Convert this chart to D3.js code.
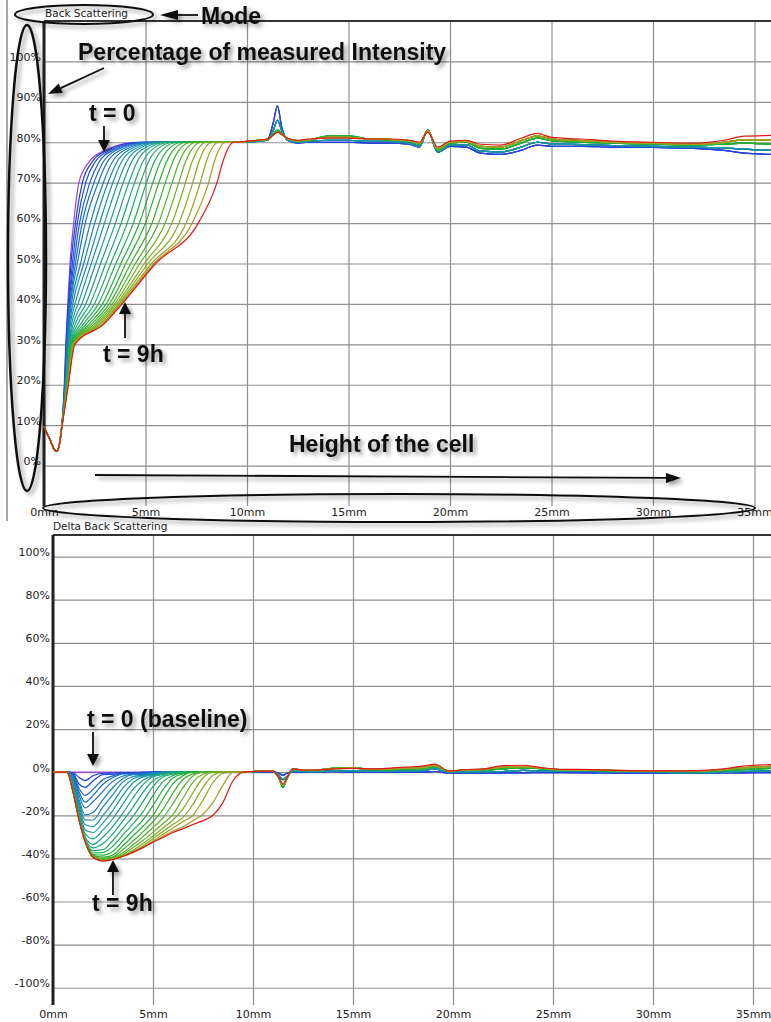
<!DOCTYPE html>
<html>
<head>
<meta charset="utf-8">
<script src="https://cdn.jsdelivr.net/npm/d3@7"></script>
<style>
  body { margin: 0; background: #fff; }
  svg { display: block; }
  .tick text { font-family: "DejaVu Sans", Verdana, sans-serif; font-size: 11px; fill: #222; }
  .title { font-family: "DejaVu Sans", Verdana, sans-serif; font-size: 10.5px; fill: #222; }
  .note { font-family: "Liberation Sans", Arial, sans-serif; font-weight: bold; font-size: 23px; fill: #111; }
</style>
</head>
<body>
<div id="chart"></div>
<script>
// ---- data ----
const mmTicks = [0, 5, 10, 15, 20, 25, 30, 35];
const pctTicksTop = [0, 10, 20, 30, 40, 50, 60, 70, 80, 90, 100];
const pctTicksBottom = [-100, -80, -60, -40, -20, 0, 20, 40, 60, 80, 100];

// back scattering: common start of every scan (cell bottom)
const bsStartMm = [0, 0.15, 0.33, 0.5, 0.62, 0.75, 0.85];
const bsStartPct = [9.6, 8, 6, 4, 3.5, 5, 8.5];

// height (mm) where each scan crosses these levels, t = 0 ... t = 9h
const bsLevels = [20, 30, 35, 40, 50, 60, 70, 75, 78, 80];
const bsFrontMm = [
  [1.00, 1.07, 1.12, 1.17, 1.28, 1.46, 1.72, 2.20, 3.00, 4.60],
  [1.01, 1.09, 1.14, 1.20, 1.33, 1.55, 1.89, 2.35, 3.10, 4.70],
  [1.02, 1.10, 1.15, 1.22, 1.40, 1.64, 2.05, 2.50, 3.25, 4.85],
  [1.03, 1.11, 1.17, 1.24, 1.47, 1.75, 2.26, 2.70, 3.40, 5.00],
  [1.04, 1.12, 1.18, 1.27, 1.55, 1.88, 2.46, 2.90, 3.55, 5.10],
  [1.05, 1.14, 1.20, 1.30, 1.64, 2.03, 2.67, 3.10, 3.75, 5.20],
  [1.06, 1.16, 1.23, 1.35, 1.80, 2.28, 2.92, 3.35, 3.95, 5.35],
  [1.07, 1.18, 1.26, 1.42, 1.96, 2.50, 3.15, 3.58, 4.15, 5.45],
  [1.07, 1.20, 1.30, 1.53, 2.14, 2.74, 3.39, 3.80, 4.35, 5.60],
  [1.08, 1.22, 1.36, 1.68, 2.33, 2.98, 3.64, 4.05, 4.55, 5.75],
  [1.09, 1.24, 1.44, 1.86, 2.55, 3.24, 3.90, 4.30, 4.78, 5.90],
  [1.10, 1.26, 1.54, 2.06, 2.79, 3.52, 4.18, 4.57, 5.02, 6.05],
  [1.11, 1.28, 1.66, 2.27, 3.04, 3.80, 4.46, 4.85, 5.28, 6.20],
  [1.12, 1.30, 1.80, 2.48, 3.29, 4.10, 4.75, 5.13, 5.52, 6.40],
  [1.12, 1.32, 1.94, 2.68, 3.54, 4.40, 5.05, 5.42, 5.80, 6.60],
  [1.13, 1.34, 2.08, 2.88, 3.79, 4.70, 5.36, 5.72, 6.08, 6.80],
  [1.14, 1.36, 2.22, 3.06, 4.03, 5.00, 5.66, 6.02, 6.36, 7.00],
  [1.15, 1.38, 2.35, 3.22, 4.27, 5.32, 5.98, 6.33, 6.64, 7.25],
  [1.16, 1.40, 2.47, 3.36, 4.50, 5.64, 6.31, 6.65, 6.95, 7.50],
  [1.16, 1.42, 2.58, 3.48, 4.72, 5.97, 6.64, 6.96, 7.25, 7.75],
  [1.17, 1.44, 2.68, 3.58, 4.94, 6.30, 6.97, 7.28, 7.55, 8.00],
  [1.18, 1.46, 2.77, 3.67, 5.12, 6.65, 7.33, 7.62, 7.87, 8.30],
  [1.19, 1.48, 2.84, 3.74, 5.30, 7.00, 7.70, 7.98, 8.22, 8.60],
  [1.19, 1.50, 2.90, 3.80, 5.42, 7.30, 8.11, 8.38, 8.60, 8.95],
  [1.20, 1.52, 2.95, 3.85, 5.50, 7.60, 8.52, 8.80, 9.02, 9.35]
];

// upper part of the cell (stable zone), one profile per colour band
const plateauMm = [9.6, 10, 10.5, 11, 11.3, 11.5, 11.7, 12, 12.5, 13, 14, 15, 16, 17, 18, 18.5, 18.9, 19.4, 20, 20.8, 21.5, 22.5, 23.5, 24.3, 25, 26.5, 28, 30, 32, 33.5, 34.5, 35.9];
const plateauBlue  = [80, 80, 80.3, 80.5, 85, 89, 84, 80.5, 79.8, 80, 80, 80, 79.8, 79.8, 79.5, 78.8, 83, 77.5, 79, 78.8, 77.3, 77, 78, 79.3, 79, 79, 78.8, 78.7, 78.5, 78, 77.3, 77];
const plateauTeal  = [80, 80, 80.2, 80.5, 83, 85.5, 83, 80.5, 80, 80.2, 80.5, 80.5, 80.2, 80.2, 79.8, 79, 83, 77.6, 79.3, 79.4, 77.8, 77.6, 78.8, 80, 79.6, 79.4, 79.2, 79, 78.8, 78.6, 78.3, 78];
const plateauGreen = [80, 80.2, 80.4, 80.6, 82, 83, 82.3, 80.8, 80.3, 80.5, 81.5, 81.5, 80.8, 80.6, 80.3, 79.5, 83, 78, 79.8, 80, 78.5, 78.3, 79.8, 81, 80.4, 80, 79.8, 79.5, 79.3, 79.5, 79.8, 79.5];
const plateauOlive = [80, 80.2, 80.5, 80.7, 81.8, 82.6, 82, 80.9, 80.4, 80.6, 81.2, 81.2, 80.8, 80.7, 80.4, 79.8, 82.8, 78.4, 80, 80.2, 79, 78.8, 80.4, 81.6, 80.8, 80.4, 80, 79.8, 79.5, 80, 80.6, 80.6];
const plateauRed   = [80, 80.3, 80.5, 80.8, 81.8, 82.5, 82, 81, 80.5, 80.8, 81, 81, 80.8, 80.8, 80.5, 80, 82.5, 78.8, 80.3, 80.5, 79.5, 79.3, 81, 82.2, 81.2, 80.8, 80.3, 80, 79.8, 80.5, 81.5, 81.7];
const plateauGroup = [0, 0, 0, 1, 1, 1, 1, 1, 1, 1, 2, 2, 2, 2, 2, 2, 2, 3, 3, 3, 3, 3, 3, 3, 4];

// delta back scattering (scan - scan at t = 0)
const deltaMm = [0, 0.7, 1.0, 1.3, 1.6, 2.0, 2.5, 3.0, 3.5, 4.0, 4.5, 5.0, 5.5, 6.0, 6.5, 7.0, 7.5, 8.0, 8.5, 9.0];
const deltaRows = [
  [0, 0, 0, 0, 0, 0, 0, 0, 0, 0, 0, 0, 0, 0, 0, 0, 0, 0, 0, 0],
  [0, 0, -0.3, -2.5, -3.9, -1.7, -0.5, -0.4, -0.3, -0.2, -0.1, 0, 0, 0, 0, 0, 0, 0, 0, 0],
  [0, 0, -0.6, -5.5, -7.1, -4.1, -1.1, -1.0, -0.3, -0.3, -0.1, 0, 0, 0, 0, 0, 0, 0, 0, 0],
  [0, 0, -1, -7.5, -10.8, -8, -3.4, -1.7, -0.5, -0.5, -0.4, 0, 0, 0, 0, 0, 0, 0, 0, 0],
  [0, 0, -1.5, -9, -13.9, -10.8, -5.6, -2.5, -0.8, -0.7, -0.5, -0.1, 0, 0, 0, 0, 0, 0, 0, 0],
  [0, 0, -2, -10.5, -16.6, -13.7, -8.8, -4.2, -1.8, -0.9, -0.9, -0.3, 0, 0, 0, 0, 0, 0, 0, 0],
  [0, 0, -3, -12.5, -19.8, -18.7, -12.7, -7.1, -2.9, -1.2, -1.1, -0.5, 0, 0, 0, 0, 0, 0, 0, 0],
  [0, 0, -4, -14, -22.1, -22.2, -16.1, -10.3, -4.5, -2, -1.4, -0.7, 0, 0, 0, 0, 0, 0, 0, 0],
  [0, 0, -5, -15.5, -24.3, -25.2, -20.1, -14, -7.3, -3.2, -1.7, -1, -0.2, 0, 0, 0, 0, 0, 0, 0],
  [0, 0, -6, -17, -26.7, -28, -23.5, -17.7, -10.7, -4.9, -2.2, -1.3, -0.4, 0, 0, 0, 0, 0, 0, 0],
  [0, 0, -7, -18.5, -28.5, -30.9, -26.8, -21.5, -14.7, -8, -3.7, -1.6, -0.7, 0, 0, 0, 0, 0, 0, 0],
  [0, 0, -7.5, -19.5, -29.8, -33.5, -30.1, -25.1, -18.9, -12, -5.8, -2.1, -1.1, -0.1, 0, 0, 0, 0, 0, 0],
  [0, 0, -8, -20.5, -30.8, -35.1, -33.1, -28.5, -22.5, -16.3, -9.4, -4, -1.5, -0.4, 0, 0, 0, 0, 0, 0],
  [0, 0, -8.5, -21, -31.2, -36.4, -35.9, -31.6, -26, -20.5, -13.7, -6.7, -2.2, -0.9, 0, 0, 0, 0, 0, 0],
  [0, 0, -8.7, -21.3, -31.5, -37.5, -37.3, -34.3, -29.1, -24, -18.4, -10.8, -4.4, -1.5, -0.3, 0, 0, 0, 0, 0],
  [0, 0, -8.8, -21.5, -31.6, -38.2, -38.5, -36.7, -31.8, -27, -22.1, -15.5, -8.1, -2.7, -0.8, 0, 0, 0, 0, 0],
  [0, 0, -8.9, -21.6, -31.7, -38.6, -39.4, -38.4, -34.1, -29.6, -25.1, -20, -12.4, -5.3, -1.6, 0, 0, 0, 0, 0],
  [0, 0, -9, -21.7, -31.8, -38.9, -40, -39.3, -35.9, -31.9, -27.7, -23, -17.3, -9.7, -3.4, -0.8, 0, 0, 0, 0],
  [0, 0, -9, -21.8, -31.9, -39.1, -40.4, -39.7, -37.4, -33.7, -29.9, -25.6, -21.2, -14.6, -7.2, -1.8, 0, 0, 0, 0],
  [0, 0, -9, -21.9, -31.9, -39.2, -40.7, -40, -38.2, -35, -31.7, -27.8, -23.8, -19.6, -12.1, -4.6, -1, 0, 0, 0],
  [0, 0, -9, -21.9, -32, -39.3, -40.9, -40.2, -38.6, -36.2, -33.1, -29.6, -25.9, -22.2, -17, -9.5, -2.6, 0, 0, 0],
  [0, 0, -9, -22, -32, -39.4, -41, -40.3, -38.8, -36.8, -34.2, -30.8, -27.5, -24.2, -21, -14.9, -7.1, -1.4, 0, 0],
  [0, 0, -9, -22, -32, -39.4, -41.1, -40.4, -38.9, -37, -34.7, -31.9, -28.8, -25.9, -22.9, -20, -12.9, -4.8, -0.5, 0],
  [0, 0, -9, -22, -32, -39.5, -41.2, -40.5, -39, -37.1, -34.9, -32.3, -29.8, -27.3, -25.3, -22.5, -19.5, -14, -6, 0],
  [0, 0, -9, -22, -32, -39.5, -41.2, -40.5, -39, -37.2, -35, -32.5, -30.3, -28, -26.2, -24.3, -22.5, -20, -14, -4]
];
const deltaPlateauMm = [9.5, 10, 10.5, 11, 11.3, 11.5, 11.7, 12, 12.5, 13, 14, 15, 16, 17, 18, 18.5, 19.1, 19.8, 20.5, 21.5, 22.5, 23.5, 24.5, 25.5, 27, 28.5, 30, 31.5, 32.5, 33.5, 34.5, 35.9];
const deltaBlue  = [0, 0, 0, 0, -0.5, -1.5, -0.5, 0, 0, 0, 0.2, 0, 0, 0, 0, 0, 0.3, -0.5, -0.6, -0.5, -0.3, -0.3, -0.2, -0.2, -0.3, -0.5, -0.5, -0.6, -0.5, -0.4, -0.3, -0.2];
const deltaTeal  = [0, 0.2, 0.3, 0.3, -1.5, -3.5, -2, 0.5, 0.3, 0.2, 0.6, 0.5, 0.4, 0.5, 0.6, 0.8, 1.5, 0, 0, 0.2, 0.3, 0.8, 0.5, 0.4, 0.3, 0.2, 0, -0.2, -0.2, 0, 0.3, 0.5];
const deltaGreen = [0, 0.3, 0.5, 0.5, -3, -7, -3, 1.5, 0.8, 0.8, 1.8, 2, 1.2, 1.2, 1.5, 1.5, 2.5, 0.5, 0.8, 1, 1.5, 2, 1.5, 1, 0.8, 0.5, 0.5, 0.3, 0.3, 0.8, 1.2, 1.8];
const deltaOlive = [0, 0.3, 0.5, 0.5, -2.8, -6.2, -2.8, 1.5, 0.9, 0.9, 1.6, 1.9, 1.4, 1.6, 2, 2.2, 3.1, 0.5, 1, 1.3, 2.3, 2.6, 1.8, 1.2, 1, 0.7, 0.6, 0.5, 0.6, 1.2, 2, 2.7];
const deltaRed   = [0, 0.3, 0.5, 0.5, -2.5, -5.5, -2.5, 1.5, 1, 1, 1.5, 1.8, 1.5, 2, 2.5, 2.8, 3.7, 0.5, 1.2, 1.5, 3, 3.2, 2, 1.3, 1.2, 0.8, 0.6, 0.6, 0.8, 1.5, 2.8, 3.5];

// ---- drawing ----
const width = 771, height = 1022;
const svg = d3.select("#chart").append("svg")
  .attr("width", width)
  .attr("height", height);

const shadow = svg.append("defs").append("filter")
  .attr("id", "shadow")
  .attr("filterUnits", "userSpaceOnUse")
  .attr("x", 0).attr("y", 0).attr("width", width).attr("height", height);
shadow.append("feDropShadow")
  .attr("dx", 3).attr("dy", 3).attr("stdDeviation", 2)
  .attr("flood-color", "#000").attr("flood-opacity", 0.4);

// scan colour: violet (t = 0) -> blue -> teal -> green -> olive -> red (t = 9h)
const color = d3.scaleLinear()
  .domain([0, 1, 4, 8, 12, 16, 20, 23, 24])
  .range(["#9a44cc", "#2038e0", "#1868c8", "#1890a8", "#18a878", "#28b030", "#78b020", "#a89a20", "#e01818"]);

// left border of the upper screenshot
svg.append("line")
  .attr("x1", 7).attr("x2", 7).attr("y1", 0).attr("y2", 521)
  .attr("stroke", "#555").attr("stroke-width", 1);

function frame(x, y, left, top, bottom) {
  const g = svg.append("g");
  g.append("g")
    .attr("transform", `translate(${left},0)`)
    .call(d3.axisLeft(y).tickValues(y.ticksList).tickSize(-(width - left)).tickPadding(3).tickFormat(d => d + "%"))
    .call(g => g.select(".domain").remove())
    .call(g => g.selectAll(".tick line").attr("stroke", "#8f8f8f").attr("stroke-width", 1.2))
    .call(g => g.selectAll(".tick text").attr("dy", "-0.1em"));
  g.append("g")
    .attr("transform", `translate(0,${bottom})`)
    .call(d3.axisBottom(x).tickValues(mmTicks).tickSize(-(bottom - top)).tickPadding(x.pad).tickFormat(d => d + "mm"))
    .call(g => g.select(".domain").remove())
    .call(g => g.selectAll(".tick line").attr("stroke", "#8f8f8f").attr("stroke-width", 1.2));
  g.append("line")
    .attr("x1", left).attr("x2", width).attr("y1", top).attr("y2", top)
    .attr("stroke", "#333").attr("stroke-width", 2);
  g.append("line")
    .attr("x1", left).attr("x2", left).attr("y1", top).attr("y2", bottom)
    .attr("stroke", "#222").attr("stroke-width", 3);
}

// upper chart: back scattering
const xTop = d3.scaleLinear().domain([0, 36]).range([44, 44 + 36 * 20.3]);
const yTop = d3.scaleLinear().domain([-10, 110]).range([506, 21]);
yTop.ticksList = pctTicksTop;
xTop.pad = 2;
frame(xTop, yTop, 44, 21, 506);

svg.append("text").attr("class", "title").attr("x", 45).attr("y", 17).text("Back Scattering");

const plateaus = [plateauBlue, plateauTeal, plateauGreen, plateauOlive, plateauRed];
const lineTop = d3.line()
  .x(d => xTop(d[0]))
  .y(d => yTop(d[1]))
  .curve(d3.curveMonotoneX);

const scansTop = svg.append("g").attr("fill", "none").attr("stroke-width", 1.2);
bsFrontMm.forEach((row, k) => {
  const pts = bsStartMm.map((m, i) => [m, bsStartPct[i]]);
  row.forEach((m, i) => pts.push([m, bsLevels[i]]));
  const plateau = plateaus[plateauGroup[k]];
  plateauMm.forEach((m, i) => pts.push([m, plateau[i]]));
  scansTop.append("path")
    .datum(pts)
    .attr("stroke", color(k))
    .attr("d", lineTop);
});

// lower chart: delta back scattering
const xBot = d3.scaleLinear().domain([0, 36]).range([53, 53 + 36 * 20]);
const yBot = d3.scaleLinear().domain([-108, 110]).range([1005, 535]);
yBot.ticksList = pctTicksBottom;
xBot.pad = 5;
frame(xBot, yBot, 53, 535, 1005);

svg.append("text").attr("class", "title").attr("x", 53).attr("y", 530).text("Delta Back Scattering");

const deltaPlateaus = [deltaBlue, deltaTeal, deltaGreen, deltaOlive, deltaRed];
const lineBot = d3.line()
  .x(d => xBot(d[0]))
  .y(d => yBot(d[1]))
  .curve(d3.curveMonotoneX);

const scansBot = svg.append("g").attr("fill", "none").attr("stroke-width", 1.2);
deltaRows.forEach((row, k) => {
  const pts = deltaMm.map((m, i) => [m, row[i]]);
  const plateau = deltaPlateaus[plateauGroup[k]];
  deltaPlateauMm.forEach((m, i) => pts.push([m, plateau[i]]));
  scansBot.append("path")
    .datum(pts)
    .attr("stroke", color(k))
    .attr("d", lineBot);
});

// ---- hand-drawn annotations ----
const notes = svg.append("g").attr("filter", "url(#shadow)");

function arrow(x1, y1, x2, y2, head, half) {
  const a = Math.atan2(y2 - y1, x2 - x1), c = Math.cos(a), s = Math.sin(a);
  const bx = x2 - head * c, by = y2 - head * s;
  notes.append("line")
    .attr("x1", x1).attr("y1", y1).attr("x2", bx).attr("y2", by)
    .attr("stroke", "#111").attr("stroke-width", 1.8);
  notes.append("path")
    .attr("d", `M${x2},${y2}L${bx - half * s},${by + half * c}L${bx + half * s},${by - half * c}Z`)
    .attr("fill", "#111");
}
function note(text, x, y) {
  notes.append("text").attr("class", "note").attr("x", x).attr("y", y).text(text);
}
function ring(cx, cy, rx, ry, w) {
  notes.append("ellipse")
    .attr("cx", cx).attr("cy", cy).attr("rx", rx).attr("ry", ry)
    .attr("fill", "none").attr("stroke", "#111").attr("stroke-width", w);
}

ring(84, 14.5, 69, 9.5, 2);
note("Mode", 201, 24);
arrow(198, 15, 160, 15, 18, 5);

note("Percentage of measured Intensity", 78, 60);
arrow(104, 68, 48, 94, 14, 5);
ring(27, 258, 19, 233, 2.5);

note("t = 0", 89, 121);
arrow(104, 126, 104, 152, 12, 6);
note("t = 9h", 103, 362);
arrow(125, 338, 125, 302, 12, 6);

note("Height of the cell", 289, 452);
arrow(95, 475, 681, 478, 15, 5);
ring(399, 508, 356, 14, 2);

note("t = 0 (baseline)", 87, 727);
arrow(93, 732, 93, 766, 12, 6);
note("t = 9h", 92, 911);
arrow(113, 895, 113, 860, 12, 6);
</script>
</body>
</html>
